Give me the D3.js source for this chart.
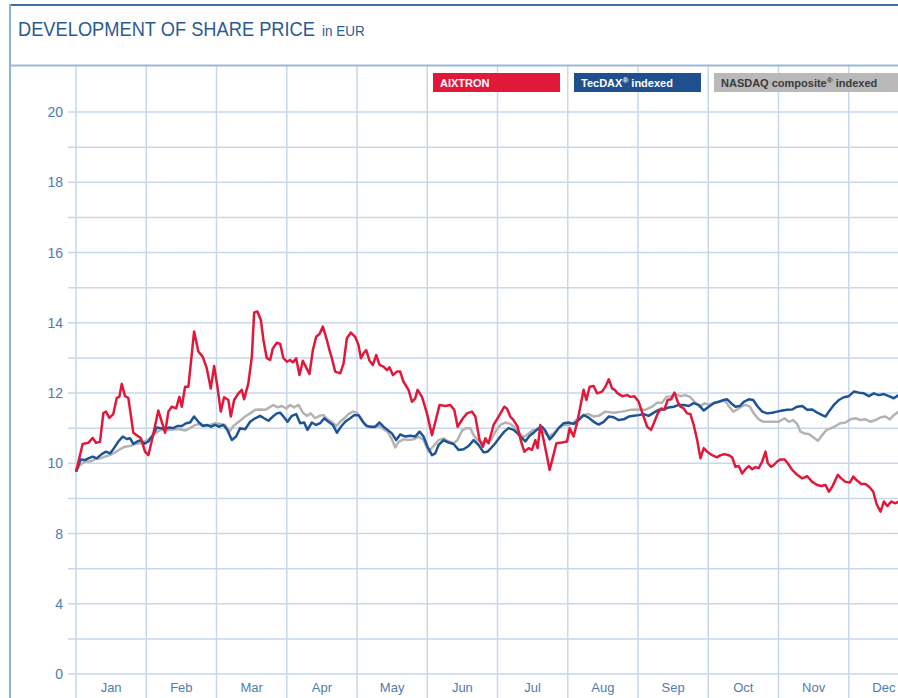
<!DOCTYPE html>
<html>
<head>
<meta charset="utf-8">
<script src="https://cdn.jsdelivr.net/npm/d3@7"></script>
<style>
  body { margin: 0; background: #fff; }
  svg { display: block; font-family: "Liberation Sans", Arial, sans-serif; }
</style>
</head>
<body>
<svg id="chart" width="898" height="698"></svg>
<script>
// month labels and axis ticks
var months = ["Jan","Feb","Mar","Apr","May","Jun","Jul","Aug","Sep","Oct","Nov","Dec"];
var yLabels = [0, 4, 8, 10, 12, 14, 16, 18, 20];
var yGrid = [0, 2, 4, 6, 8, 9, 10, 11, 12, 13, 14, 15, 16, 17, 18, 19, 20];

// legend entries
var seriesNames = ["AIXTRON", "TecDAX", "NASDAQ composite"];

// [month position, EUR]
var aixtron = [[0,9.76],[0.095,10.55],[0.175,10.58],[0.238,10.72],[0.285,10.58],[0.342,10.61],[0.389,11.43],[0.427,11.47],[0.474,11.29],[0.531,11.40],[0.580,11.86],[0.617,11.89],[0.651,12.26],[0.698,11.91],[0.745,11.86],[0.816,10.87],[0.865,10.80],[0.922,10.72],[0.983,10.33],[1.030,10.23],[1.093,10.76],[1.172,11.50],[1.221,11.18],[1.268,10.87],[1.315,11.47],[1.363,11.61],[1.425,11.56],[1.472,11.89],[1.506,11.61],[1.553,12.18],[1.600,12.18],[1.681,13.75],[1.742,13.18],[1.805,13.03],[1.862,12.70],[1.919,12.13],[1.966,12.77],[2.013,12.18],[2.061,11.47],[2.108,11.88],[2.169,11.80],[2.204,11.33],[2.251,11.80],[2.312,11.99],[2.360,12.09],[2.393,11.82],[2.454,12.28],[2.503,13.03],[2.536,14.29],[2.583,14.32],[2.631,14.08],[2.668,13.51],[2.716,12.99],[2.764,12.94],[2.802,13.27],[2.859,13.43],[2.906,13.40],[2.953,12.99],[3.001,12.89],[3.048,12.94],[3.087,12.87],[3.134,12.99],[3.181,12.51],[3.229,12.92],[3.276,12.73],[3.323,12.54],[3.372,13.22],[3.419,13.60],[3.466,13.68],[3.514,13.89],[3.571,13.51],[3.608,13.22],[3.642,12.99],[3.689,12.61],[3.761,12.56],[3.808,12.83],[3.856,13.56],[3.913,13.72],[3.974,13.60],[4.021,13.37],[4.056,12.99],[4.093,13.13],[4.131,13.22],[4.178,12.92],[4.226,12.80],[4.274,13.08],[4.321,12.80],[4.377,12.75],[4.426,12.65],[4.463,12.73],[4.511,12.51],[4.568,12.61],[4.615,12.61],[4.662,12.32],[4.734,12.09],[4.782,11.75],[4.829,11.85],[4.862,12.09],[4.925,11.89],[4.996,11.42],[5.067,10.80],[5.128,11.28],[5.175,11.66],[5.256,11.63],[5.328,11.66],[5.385,11.52],[5.432,11.04],[5.470,11.16],[5.509,11.28],[5.566,11.42],[5.637,11.47],[5.684,11.33],[5.745,10.66],[5.793,10.47],[5.826,10.71],[5.873,10.57],[5.944,11.09],[6.016,11.33],[6.097,11.61],[6.135,11.56],[6.182,11.33],[6.229,11.23],[6.286,11.04],[6.335,10.62],[6.382,10.33],[6.443,10.43],[6.491,10.38],[6.538,10.66],[6.571,10.43],[6.610,11.09],[6.657,10.66],[6.705,10.19],[6.742,9.81],[6.791,10.19],[6.838,10.57],[6.919,10.59],[6.990,10.62],[7.027,11.00],[7.084,10.76],[7.141,11.23],[7.179,11.61],[7.226,12.09],[7.265,11.80],[7.312,12.18],[7.369,12.20],[7.417,11.99],[7.489,12.04],[7.536,12.18],[7.583,12.39],[7.631,12.13],[7.668,12.09],[7.711,11.99],[7.774,11.91],[7.845,11.94],[7.892,11.89],[7.949,11.91],[8.010,11.75],[8.073,11.37],[8.130,11.04],[8.187,10.95],[8.234,11.18],[8.281,11.42],[8.329,11.56],[8.376,11.53],[8.423,11.80],[8.471,11.82],[8.519,12.01],[8.566,11.75],[8.604,11.61],[8.651,11.56],[8.699,11.42],[8.746,11.40],[8.793,11.09],[8.842,10.66],[8.889,10.14],[8.936,10.43],[8.984,10.33],[9.055,10.23],[9.127,10.17],[9.174,10.23],[9.231,10.26],[9.292,10.23],[9.340,10.17],[9.387,9.90],[9.434,9.92],[9.483,9.71],[9.530,9.83],[9.577,9.92],[9.625,9.83],[9.672,9.89],[9.719,9.86],[9.768,10.05],[9.815,10.33],[9.848,10.00],[9.896,9.90],[9.933,9.95],[9.981,10.05],[10.028,10.11],[10.085,10.11],[10.132,10.00],[10.195,9.81],[10.266,9.67],[10.337,9.57],[10.409,9.63],[10.480,9.47],[10.551,9.38],[10.608,9.35],[10.670,9.38],[10.717,9.19],[10.765,9.33],[10.798,9.47],[10.845,9.67],[10.893,9.57],[10.954,9.47],[11.016,9.45],[11.064,9.62],[11.121,9.50],[11.178,9.41],[11.239,9.41],[11.301,9.31],[11.349,9.19],[11.396,8.84],[11.453,8.62],[11.500,8.91],[11.549,8.78],[11.605,8.91],[11.667,8.86],[11.709,8.91]];

var tecdax = [[0,9.76],[0.067,10.11],[0.128,10.09],[0.175,10.14],[0.238,10.19],[0.295,10.14],[0.366,10.26],[0.427,10.33],[0.484,10.28],[0.541,10.43],[0.603,10.62],[0.665,10.76],[0.722,10.69],[0.769,10.71],[0.816,10.55],[0.873,10.62],[0.922,10.66],[0.969,10.55],[1.030,10.62],[1.093,10.80],[1.150,11.02],[1.207,11.00],[1.268,10.97],[1.329,11.02],[1.386,11.00],[1.443,11.06],[1.506,11.06],[1.567,11.14],[1.624,11.16],[1.681,11.33],[1.742,11.18],[1.805,11.06],[1.862,11.09],[1.919,11.04],[1.980,11.09],[2.041,11.04],[2.098,11.09],[2.155,10.95],[2.218,10.66],[2.279,10.76],[2.336,11.00],[2.407,10.97],[2.479,11.18],[2.550,11.28],[2.621,11.35],[2.678,11.28],[2.739,11.21],[2.802,11.33],[2.859,11.42],[2.906,11.44],[2.953,11.33],[3.010,11.18],[3.073,11.35],[3.134,11.40],[3.191,11.14],[3.248,11.16],[3.295,10.95],[3.358,11.16],[3.419,11.09],[3.476,11.14],[3.533,11.28],[3.594,11.18],[3.657,11.09],[3.714,10.87],[3.771,11.04],[3.832,11.18],[3.903,11.28],[3.960,11.37],[4.021,11.37],[4.084,11.18],[4.141,11.06],[4.198,11.04],[4.259,11.04],[4.321,11.16],[4.377,11.04],[4.434,10.95],[4.497,10.85],[4.558,10.66],[4.615,10.82],[4.687,10.76],[4.758,10.78],[4.829,10.76],[4.890,10.90],[4.947,10.76],[5.004,10.47],[5.067,10.23],[5.114,10.28],[5.161,10.52],[5.232,10.66],[5.303,10.59],[5.375,10.55],[5.446,10.38],[5.517,10.40],[5.588,10.49],[5.660,10.66],[5.731,10.52],[5.802,10.31],[5.859,10.33],[5.907,10.43],[5.969,10.57],[6.040,10.76],[6.097,10.90],[6.158,11.00],[6.229,10.95],[6.286,10.85],[6.335,10.74],[6.396,10.62],[6.457,10.78],[6.514,10.87],[6.585,11.00],[6.634,11.04],[6.681,10.93],[6.742,10.68],[6.799,10.80],[6.870,11.00],[6.942,11.14],[7.013,11.16],[7.084,11.12],[7.155,11.23],[7.226,11.37],[7.298,11.30],[7.369,11.18],[7.440,11.10],[7.511,11.18],[7.583,11.33],[7.654,11.31],[7.725,11.23],[7.796,11.25],[7.868,11.33],[7.939,11.35],[8.010,11.37],[8.081,11.40],[8.152,11.35],[8.224,11.44],[8.295,11.52],[8.366,11.53],[8.437,11.59],[8.509,11.61],[8.580,11.66],[8.651,11.66],[8.722,11.63],[8.793,11.71],[8.865,11.66],[8.936,11.50],[9.007,11.61],[9.078,11.71],[9.150,11.75],[9.221,11.80],[9.269,11.82],[9.326,11.71],[9.387,11.61],[9.449,11.63],[9.506,11.75],[9.577,11.82],[9.640,11.80],[9.697,11.63],[9.768,11.47],[9.839,11.42],[9.910,11.44],[9.981,11.47],[10.053,11.50],[10.124,11.52],[10.195,11.53],[10.266,11.61],[10.337,11.63],[10.409,11.52],[10.480,11.53],[10.551,11.44],[10.622,11.37],[10.670,11.33],[10.717,11.47],[10.788,11.66],[10.859,11.80],[10.930,11.88],[11.001,11.91],[11.073,12.04],[11.144,12.01],[11.215,11.99],[11.286,11.91],[11.357,11.99],[11.429,11.94],[11.500,11.97],[11.571,11.91],[11.642,11.85],[11.709,11.94]];

var nasdaq = [[0,9.76],[0.057,9.95],[0.128,10.05],[0.199,10.05],[0.271,10.11],[0.342,10.14],[0.413,10.19],[0.484,10.23],[0.556,10.31],[0.627,10.40],[0.698,10.47],[0.769,10.49],[0.840,10.55],[0.912,10.57],[0.983,10.62],[1.054,10.71],[1.125,10.85],[1.197,10.95],[1.268,10.93],[1.339,10.95],[1.410,10.97],[1.481,10.97],[1.553,10.93],[1.624,11.00],[1.695,11.09],[1.766,11.12],[1.838,11.06],[1.909,11.09],[1.980,11.14],[2.051,11.12],[2.123,11.09],[2.184,10.90],[2.241,11.06],[2.289,11.14],[2.336,11.21],[2.407,11.33],[2.479,11.42],[2.550,11.52],[2.621,11.53],[2.692,11.52],[2.754,11.59],[2.811,11.66],[2.868,11.59],[2.930,11.63],[2.991,11.56],[3.048,11.66],[3.105,11.59],[3.167,11.66],[3.229,11.44],[3.286,11.35],[3.343,11.42],[3.405,11.28],[3.466,11.35],[3.523,11.37],[3.580,11.25],[3.642,11.18],[3.704,11.06],[3.761,11.18],[3.818,11.28],[3.879,11.40],[3.942,11.47],[3.999,11.44],[4.056,11.28],[4.117,11.09],[4.188,11.02],[4.259,11.02],[4.321,11.06],[4.377,10.97],[4.434,10.90],[4.497,10.68],[4.544,10.45],[4.591,10.60],[4.662,10.68],[4.734,10.66],[4.805,10.68],[4.876,10.76],[4.947,10.66],[5.019,10.33],[5.090,10.49],[5.161,10.66],[5.232,10.71],[5.303,10.62],[5.375,10.57],[5.432,10.66],[5.494,10.93],[5.556,11.00],[5.613,11.00],[5.660,10.80],[5.717,10.66],[5.779,10.59],[5.840,10.62],[5.907,10.66],[5.969,10.90],[6.040,11.09],[6.111,11.16],[6.182,11.12],[6.254,11.00],[6.315,10.85],[6.372,10.74],[6.443,10.85],[6.514,10.95],[6.585,10.95],[6.657,10.90],[6.728,10.76],[6.799,10.85],[6.870,11.00],[6.942,11.09],[7.013,11.09],[7.084,11.16],[7.155,11.28],[7.226,11.37],[7.298,11.40],[7.369,11.33],[7.440,11.35],[7.536,11.47],[7.654,11.44],[7.774,11.47],[7.892,11.52],[8.010,11.53],[8.105,11.52],[8.201,11.61],[8.272,11.72],[8.343,11.72],[8.405,11.89],[8.471,11.91],[8.533,11.97],[8.604,11.91],[8.675,11.94],[8.746,11.88],[8.818,11.72],[8.879,11.61],[8.946,11.71],[9.007,11.66],[9.078,11.72],[9.150,11.75],[9.231,11.80],[9.292,11.63],[9.355,11.47],[9.412,11.53],[9.469,11.61],[9.530,11.66],[9.591,11.61],[9.648,11.42],[9.719,11.25],[9.782,11.18],[9.862,11.18],[9.933,11.18],[10.004,11.18],[10.085,11.28],[10.147,11.18],[10.209,11.23],[10.266,11.12],[10.313,10.90],[10.370,10.85],[10.432,10.83],[10.494,10.74],[10.560,10.64],[10.622,10.80],[10.684,10.95],[10.751,11.00],[10.812,11.06],[10.883,11.14],[10.954,11.16],[11.026,11.25],[11.097,11.28],[11.168,11.23],[11.239,11.25],[11.311,11.18],[11.382,11.23],[11.453,11.31],[11.524,11.33],[11.585,11.25],[11.642,11.37],[11.709,11.47]];

var W = 898, H = 698;
var svg = d3.select("#chart");

// scales - the y axis is compressed below 8
var x = d3.scaleLinear().domain([0, 12]).range([76, 76 + 12 * 70.25]);
var y = d3.scaleLinear().domain([0, 8, 20]).range([674, 533.5, 112]);

var gridCol = "#c9d7ea";
var labelCol = "#4f7cb0";

// horizontal grid (with the little tick stub left of the axis)
svg.append("g").selectAll("line")
	.data(yGrid)
	.enter().append("line")
	.attr("x1", 68).attr("x2", W)
	.attr("y1", function(d) { return y(d); })
	.attr("y2", function(d) { return y(d); })
	.attr("stroke", gridCol)
	.attr("stroke-width", 1.5);

// vertical grid, one per month boundary
svg.append("g").selectAll("line")
	.data(d3.range(0, 12))
	.enter().append("line")
	.attr("x1", function(d) { return x(d); })
	.attr("x2", function(d) { return x(d); })
	.attr("y1", 66).attr("y2", H)
	.attr("stroke", gridCol)
	.attr("stroke-width", 1.5);

// y labels
svg.append("g").selectAll("text")
	.data(yLabels)
	.enter().append("text")
	.attr("x", 63)
	.attr("y", function(d) { return y(d) + 5; })
	.attr("text-anchor", "end")
	.attr("font-size", "14px")
	.attr("fill", labelCol)
	.text(function(d) { return d; });

// month labels centred in each band
svg.append("g").selectAll("text")
	.data(months)
	.enter().append("text")
	.attr("x", function(d, i) { return x(i + 0.5); })
	.attr("y", 692)
	.attr("text-anchor", "middle")
	.attr("font-size", "13px")
	.attr("fill", labelCol)
	.text(function(d) { return d; });

// frame + header
svg.append("line").attr("x1", 10).attr("x2", W).attr("y1", 5).attr("y2", 5)
	.attr("stroke", "#3f6ea6").attr("stroke-width", 2);
svg.append("line").attr("x1", 10).attr("x2", 10).attr("y1", 4).attr("y2", H)
	.attr("stroke", "#8eb0d6").attr("stroke-width", 2);
svg.append("line").attr("x1", 10).attr("x2", W).attr("y1", 65.5).attr("y2", 65.5)
	.attr("stroke", "#9bb8da").attr("stroke-width", 2);

// title is a condensed face in the original, so squeeze it horizontally
svg.append("text")
	.attr("transform", "translate(18,36) scale(0.87,1)")
	.attr("font-size", "21px")
	.attr("fill", "#2c5b92")
	.text("DEVELOPMENT OF SHARE PRICE");
svg.append("text")
	.attr("transform", "translate(322,36) scale(0.9,1)")
	.attr("font-size", "15px")
	.attr("fill", "#2c5b92")
	.text("in EUR");

// the lines
var line = d3.line()
	.x(function(d) { return x(d[0]); })
	.y(function(d) { return y(d[1]); });

var series = [
	{ name: seriesNames[2], data: nasdaq, color: "#b3b3b3" },
	{ name: seriesNames[1], data: tecdax, color: "#1e5496" },
	{ name: seriesNames[0], data: aixtron, color: "#e1183a" }
];
svg.append("g").selectAll("path")
	.data(series)
	.enter().append("path")
	.attr("fill", "none")
	.attr("stroke", function(d) { return d.color; })
	.attr("stroke-width", 2.5)
	.attr("stroke-linejoin", "round")
	.attr("d", function(d) { return line(d.data); });

// legend boxes across the top
var legend = [
	{ label: seriesNames[0], sup: "", tail: "", x0: 433, x1: 560, fill: "#e1183a", txt: "#fff" },
	{ label: seriesNames[1], sup: "\u00ae", tail: " indexed", x0: 574, x1: 701, fill: "#1e4f8f", txt: "#fff" },
	{ label: seriesNames[2], sup: "\u00ae", tail: " indexed", x0: 714, x1: 900, fill: "#b9b9b9", txt: "#3a3a3a" }
];
var lg = svg.append("g").selectAll("g")
	.data(legend)
	.enter().append("g");
lg.append("rect")
	.attr("x", function(d) { return d.x0; })
	.attr("y", 73)
	.attr("width", function(d) { return d.x1 - d.x0; })
	.attr("height", 19)
	.attr("fill", function(d) { return d.fill; });
var lt = lg.append("text")
	.attr("x", function(d) { return d.x0 + 7; })
	.attr("y", 87)
	.attr("font-size", "11px")
	.attr("font-weight", "bold")
	.attr("fill", function(d) { return d.txt; });
lt.append("tspan").text(function(d) { return d.label; });
lt.append("tspan").attr("font-size", "8px").attr("dy", -4)
	.text(function(d) { return d.sup; });
lt.append("tspan").attr("dy", 4).text(function(d) { return d.tail; });
</script>
</body>
</html>
